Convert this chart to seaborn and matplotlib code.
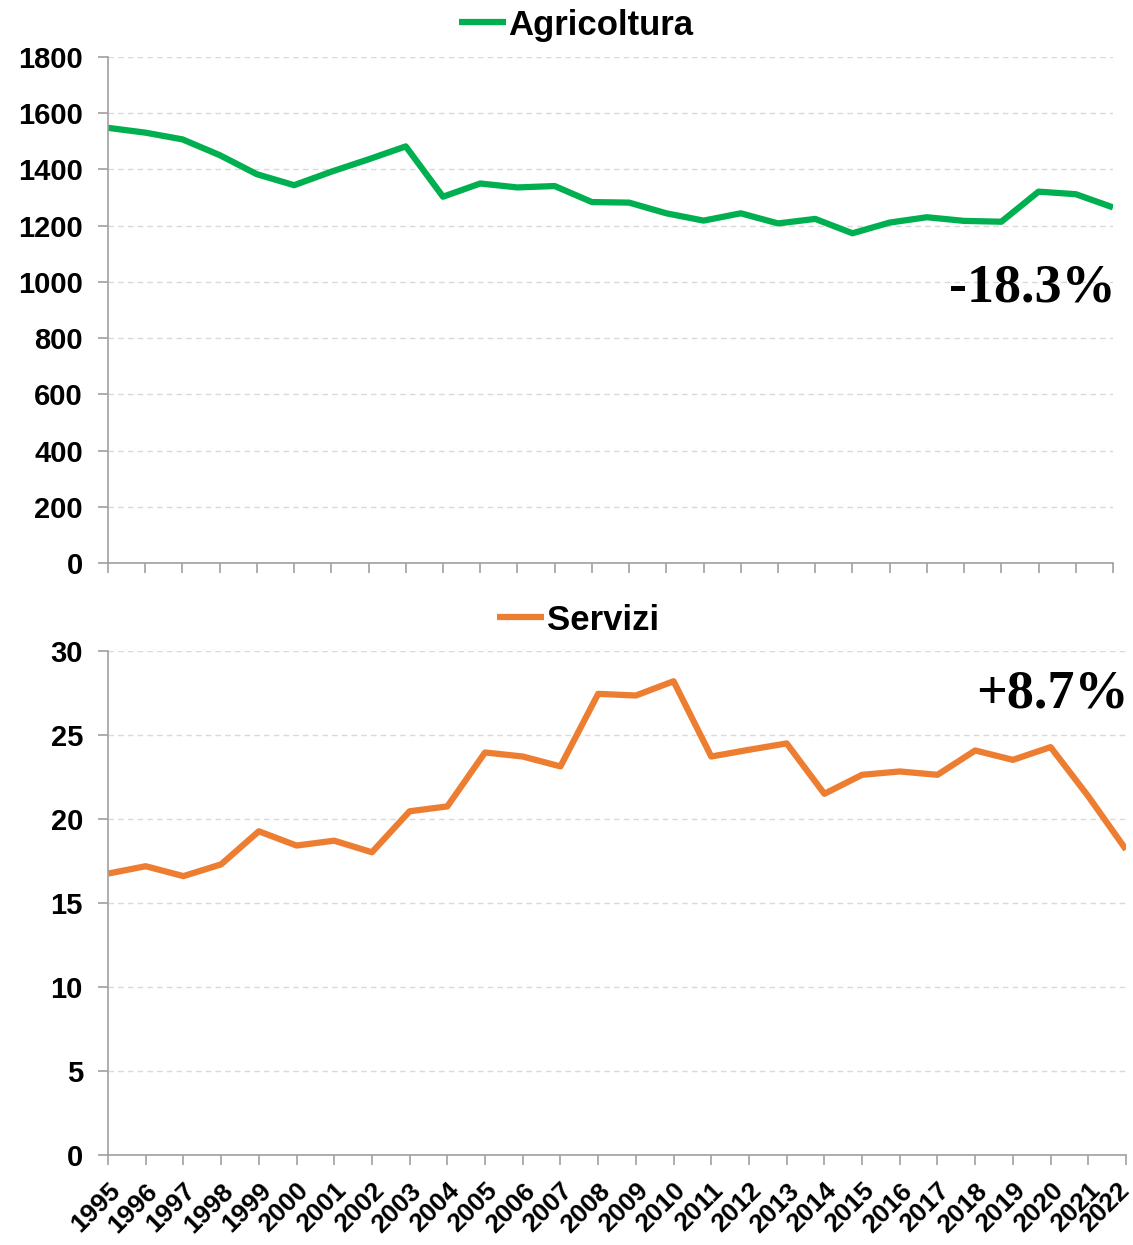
import numpy as np
import pandas as pd
import matplotlib
matplotlib.use('Agg')
import matplotlib.pyplot as plt
import matplotlib.transforms as mtrans
import seaborn as sns

# ---- data ----
years = list(range(1995, 2023))
agricoltura = [1548, 1531, 1507, 1451, 1383, 1344, 1392, 1436, 1482, 1303,
               1350, 1336, 1341, 1284, 1282, 1244, 1218, 1244, 1208, 1224,
               1173, 1211, 1230, 1217, 1214, 1321, 1312, 1265]
servizi = [16.75, 17.19, 16.6, 17.3, 19.27, 18.42, 18.71, 18.02, 20.46, 20.75,
           23.96, 23.72, 23.13, 27.45, 27.35, 28.2, 23.72, 24.12, 24.5, 21.5,
           22.63, 22.83, 22.63, 24.08, 23.52, 24.28, 21.35, 18.18]
label_agri = "Agricoltura"
label_serv = "Servizi"
note_agri = "-18.3%"
note_serv = "+8.7%"
yticks_agri = list(range(0, 1801, 200))
yticks_serv = list(range(0, 31, 5))

df = pd.DataFrame({"anno": years, label_agri: agricoltura, label_serv: servizi})

sns.set_style("white")
plt.rcParams['font.family'] = ['Liberation Sans', 'DejaVu Sans']
plt.rcParams['text.color'] = 'black'
plt.rcParams['xtick.color'] = 'black'
plt.rcParams['ytick.color'] = 'black'

GREEN = "#00B050"
ORANGE = "#ED7D31"
SPINE = "#A0A0A0"
GRID = "#D9D9D9"

W, H = 1133, 1245
fig = plt.figure(figsize=(W / 100, H / 100), dpi=100)
ax1 = fig.add_axes([108 / W, 1 - 563 / H, (1113 - 108) / W, (563 - 57) / H])
ax2 = fig.add_axes([108 / W, 1 - 1155 / H, (1126 - 108) / W, (1155 - 651) / H])

sns.lineplot(data=df, x="anno", y=label_agri, ax=ax1, color=GREEN, lw=4.5,
             label=label_agri, solid_joinstyle='round', solid_capstyle='butt')
sns.lineplot(data=df, x="anno", y=label_serv, ax=ax2, color=ORANGE, lw=4.5,
             label=label_serv, solid_joinstyle='round', solid_capstyle='butt')

for ax, yt, top in [(ax1, yticks_agri, 1800), (ax2, yticks_serv, 30)]:
    ax.set_xlim(years[0], years[-1])
    ax.set_ylim(0, top)
    ax.set_yticks(yt)
    ax.set_xticks(years)
    ax.set_xlabel("")
    ax.set_ylabel("")
    ax.set_axisbelow(True)
    ax.yaxis.grid(True, linestyle=(0, (4, 3)), color=GRID, lw=1)
    ax.xaxis.grid(False)
    for s in ["top", "right"]:
        ax.spines[s].set_visible(False)
    for s in ["left", "bottom"]:
        ax.spines[s].set_color(SPINE)
        ax.spines[s].set_linewidth(1.2)
    ax.tick_params(axis='y', which='major', direction='out', length=7, width=1.2,
                   color=SPINE, pad=11, labelsize=21, labelcolor='black', left=True)
    ax.tick_params(axis='x', which='major', direction='out', length=7, width=1.2,
                   color=SPINE, bottom=True)
    for t in ax.get_yticklabels():
        t.set_fontweight('bold')

ax1.set_xticklabels([])
ax2.set_xticks(years)
ax2.set_xticklabels([str(y) for y in years], rotation=45, ha='right', va='top',
                    rotation_mode='anchor', fontsize=19, fontweight='bold')
ax2.tick_params(axis='x', pad=10, labelcolor='black')
# keep the last label fully inside the canvas
last = ax2.get_xticklabels()[-1]
last.set_transform(last.get_transform() +
                   mtrans.ScaledTranslation(-9 / 100, 0, fig.dpi_scale_trans))

# legends
leg1 = ax1.legend(loc='center', bbox_to_anchor=(576 / W, 1 - 25 / H),
                  bbox_transform=fig.transFigure, frameon=False,
                  prop={'weight': 'bold', 'size': 25}, handlelength=1.35,
                  handletextpad=0.08, borderpad=0, borderaxespad=0)
leg2 = ax2.legend(loc='center', bbox_to_anchor=(578 / W, 1 - 620 / H),
                  bbox_transform=fig.transFigure, frameon=False,
                  prop={'weight': 'bold', 'size': 25}, handlelength=1.35,
                  handletextpad=0.08, borderpad=0, borderaxespad=0)
for leg in (leg1, leg2):
    for t in leg.get_texts():
        t.set_color('black')

# annotations
fig.text(1116 / W, 1 - 289 / H, note_agri, ha='right', va='center',
         family=['Liberation Serif', 'DejaVu Serif'], weight='bold', size=39,
         color='black')
fig.text(1129 / W, 1 - 695 / H, note_serv, ha='right', va='center',
         family=['Liberation Serif', 'DejaVu Serif'], weight='bold', size=39,
         color='black')

fig.savefig("out.png", dpi=100)
